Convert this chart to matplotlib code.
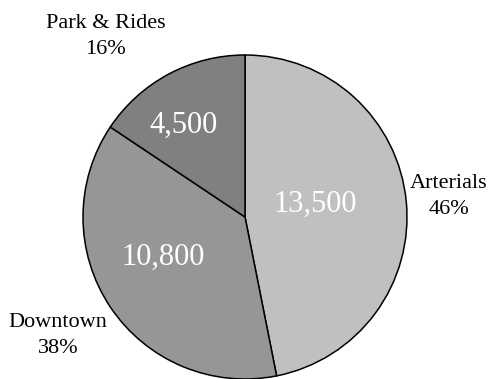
import matplotlib
matplotlib.use("Agg")
import matplotlib.pyplot as plt
import numpy as np

categories = ["Arterials", "Downtown", "Park & Rides"]
values = [13500, 10800, 4500]
value_labels = ["13,500", "10,800", "4,500"]
pct_labels = ["46%", "38%", "16%"]
colors = ["#c0c0c0", "#969696", "#808080"]

plt.rcParams["font.family"] = ["Liberation Serif", "DejaVu Serif"]

W, H = 488, 379
fig = plt.figure(figsize=(W / 100, H / 100), dpi=100)
ax = fig.add_axes([0, 0, 1, 1])

cx, cy, r = 245, H - 217, 162
wedges, _ = ax.pie(values, colors=colors, startangle=90, counterclock=False,
                   center=(cx, cy), radius=r,
                   wedgeprops=dict(edgecolor="black", linewidth=1.1))
ax.set_xlim(0, W)
ax.set_ylim(0, H)
ax.set_aspect("equal")
ax.axis("off")

def mid(w):
    return (w.theta1 + w.theta2) / 2

# value labels inside the slices (radius fraction, angle offset in degrees)
inner = [(0.443, 4.8), (0.563, -7.2), (0.681, 5.9)]
for w, lab, (f, da) in zip(wedges, value_labels, inner):
    ang = np.deg2rad(mid(w) + da)
    ax.text(cx + f * r * np.cos(ang), cy + f * r * np.sin(ang), lab,
            color="white", fontsize=22, ha="center", va="center")

# category + percent labels outside
outer = [(1.264, 0.25), (1.365, -1.45), (1.409, 9.5)]
for w, cat, pct, (f, da) in zip(wedges, categories, pct_labels, outer):
    ang = np.deg2rad(mid(w) + da)
    ax.text(cx + f * r * np.cos(ang), cy + f * r * np.sin(ang), cat + "\n" + pct,
            color="black", fontsize=16, ha="center", va="center", linespacing=1.5)

fig.savefig("out.png", dpi=100)
